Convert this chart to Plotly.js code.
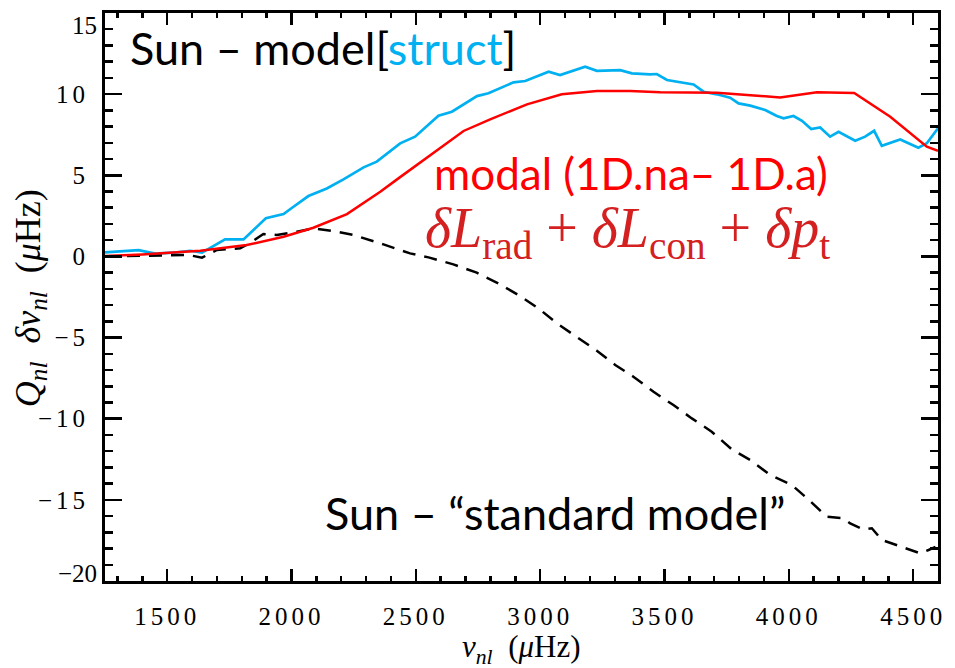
<!DOCTYPE html>
<html>
<head>
<meta charset="utf-8">
<script src="https://cdn.plot.ly/plotly-3.0.1.min.js"></script>
<style>
  html, body { margin: 0; padding: 0; background: #fff; }
  .xtick text, .ytick text { letter-spacing: 4px; }
</style>
</head>
<body>
<div id="chart" style="width:955px;height:668px;"></div>
<script>
// ---- data ----
const structX = [1250, 1385, 1452, 1539, 1593, 1640, 1733, 1807, 1897, 1968, 2008, 2068, 2142, 2209, 2290, 2343, 2437, 2497, 2591, 2645, 2746, 2792, 2893, 2940, 3034, 3080, 3181, 3228, 3322, 3369, 3442, 3469, 3510, 3576, 3617, 3657, 3711, 3764, 3798, 3845, 3905, 3952, 3979, 4019, 4053, 4090, 4126, 4166, 4200, 4267, 4307, 4343, 4374, 4448, 4521, 4555, 4600];
const structY = [0.25, 0.39, 0.17, 0.25, 0.35, 0.23, 1.05, 1.05, 2.35, 2.61, 3.06, 3.72, 4.19, 4.75, 5.49, 5.84, 6.97, 7.38, 8.67, 8.92, 9.88, 10.05, 10.73, 10.81, 11.38, 11.18, 11.69, 11.44, 11.48, 11.28, 11.22, 11.24, 10.87, 10.70, 10.60, 10.15, 9.99, 9.78, 9.43, 9.29, 9.02, 8.65, 8.51, 8.65, 8.36, 7.85, 7.95, 7.38, 7.68, 7.13, 7.38, 7.74, 6.82, 7.21, 6.70, 6.97, 7.90];

const modalX = [1250, 1400, 1633, 1820, 1968, 2088, 2223, 2357, 2430, 2585, 2692, 2799, 2947, 3087, 3228, 3362, 3483, 3711, 3965, 4113, 4263, 4408, 4555, 4600];
const modalY = [0.02, 0.12, 0.35, 0.70, 1.21, 1.77, 2.61, 3.99, 4.81, 6.56, 7.73, 8.45, 9.37, 9.99, 10.19, 10.19, 10.11, 10.09, 9.80, 10.11, 10.07, 8.61, 6.76, 6.51];

const stdX = [1250, 1400, 1586, 1640, 1700, 1794, 1830, 1887, 1941, 2022, 2088, 2169, 2249, 2370, 2477, 2551, 2651, 2745, 2832, 2913, 2993, 3067, 3148, 3228, 3302, 3375, 3456, 3536, 3610, 3690, 3771, 3845, 3925, 4012, 4073, 4153, 4220, 4247, 4300, 4334, 4374, 4394, 4488, 4528, 4562, 4590];
const stdY = [0.00, 0.05, 0.09, -0.08, 0.40, 0.50, 0.80, 1.38, 1.32, 1.52, 1.73, 1.56, 1.32, 0.74, 0.19, -0.06, -0.49, -1.00, -1.66, -2.38, -3.20, -4.12, -4.95, -5.81, -6.69, -7.41, -8.34, -9.16, -9.98, -10.80, -11.89, -12.55, -13.47, -14.08, -14.90, -16.04, -16.14, -16.45, -16.82, -16.75, -17.47, -17.58, -18.09, -18.29, -18.09, -17.90];

const xTickVals = [1500, 2000, 2500, 3000, 3500, 4000, 4500];
const xTickText = ["1500", "2000", "2500", "3000", "3500", "4000", "4500"];
const yTickVals = [-20, -15, -10, -5, 0, 5, 10, 15];
const yTickText = ["\u221220", "\u221215", "\u221210", "\u22125", "0", "5", "10", "15"];

// ---- style ----
const serif = "Liberation Serif";
const textFont = "Lato";
function tickFont() { return { family: serif, size: 25, color: "#000" }; }

const traces = [
  { x: structX, y: structY, mode: "lines", line: { color: "#00b0f0", width: 2.7 }, hoverinfo: "skip" },
  { x: stdX, y: stdY, mode: "lines", line: { color: "#000", width: 2.5, dash: "13px,9px" }, hoverinfo: "skip" },
  { x: modalX, y: modalY, mode: "lines", line: { color: "#ff0000", width: 2.5 }, hoverinfo: "skip" }
];

// y axis: the end labels (first/last) sit slightly inside the frame, as in the original
const last = yTickVals.length - 1;
const endAnn = [
  { v: yTickVals[0], t: yTickText[0], shift: 8 },
  { v: yTickVals[last], t: yTickText[last], shift: -12 }
].map(e => ({
  xref: "paper", yref: "y", x: 0, y: e.v, xanchor: "right", yanchor: "middle",
  xshift: -6, yshift: e.shift, text: e.t, showarrow: false, font: tickFont()
}));

const layout = {
  width: 955, height: 668,
  margin: { l: 105, r: 17, t: 13, b: 87 },
  paper_bgcolor: "#fff", plot_bgcolor: "#fff",
  showlegend: false,
  xaxis: {
    range: [1250, 4600], showgrid: false, zeroline: false,
    showline: true, linecolor: "#000", linewidth: 3, mirror: "allticks",
    ticks: "inside", ticklen: 12, tickwidth: 2.5, tickcolor: "#000",
    tickmode: "array", tickvals: xTickVals, ticktext: xTickText,
    tickfont: tickFont(), ticklabelstandoff: 11,
    minor: { dtick: 100, ticks: "inside", ticklen: 5, tickwidth: 2.5, tickcolor: "#000", showgrid: false }
  },
  yaxis: {
    range: [-20, 15], showgrid: false, zeroline: false,
    showline: true, linecolor: "#000", linewidth: 3, mirror: "allticks",
    ticks: "inside", ticklen: 17, tickwidth: 2.5, tickcolor: "#000",
    tickmode: "array", tickvals: yTickVals.slice(1, last), ticktext: yTickText.slice(1, last),
    tickfont: tickFont(), ticklabelstandoff: 8,
    minor: { dtick: 1, ticks: "inside", ticklen: 8, tickwidth: 2.5, tickcolor: "#000", showgrid: false }
  },
  annotations: endAnn.concat([
    { xref: "paper", yref: "paper", x: 0.5, y: -0.1197, xanchor: "center", yanchor: "middle", showarrow: false,
      text: "<i>\u03bd</i><sub><i>nl</i></sub>  (<i>\u03bc</i>Hz)", font: { family: serif, size: 31, color: "#000" } },
    { xref: "paper", yref: "paper", x: 0, y: 0.498, xanchor: "center", yanchor: "middle", xshift: -75, textangle: -90, showarrow: false,
      text: "<i>Q</i><sub><i>nl</i></sub>  <i>\u03b4\u03bd</i><sub><i>nl</i></sub>  (<i>\u03bc</i>Hz)", font: { family: serif, size: 36, color: "#000" } },
    { xref: "paper", yref: "paper", x: 0.0276, y: 0.938, xanchor: "left", yanchor: "middle", showarrow: false,
      text: 'Sun \u2013 model[<span style="color:#00b0f0">struct</span>]', font: { family: textFont, size: 45, color: "#000" } },
    { xref: "paper", yref: "paper", x: 0.392, y: 0.718, xanchor: "left", yanchor: "middle", showarrow: false,
      text: "modal (1D.na\u2013 1D.a)", font: { family: textFont, size: 44, color: "#ff0000" } },
    { xref: "paper", yref: "paper", x: 0.382, y: 0.615, xanchor: "left", yanchor: "middle", showarrow: false,
      text: "<i>\u03b4L</i><sub>rad</sub> + <i>\u03b4L</i><sub>con</sub> + <i>\u03b4p</i><sub>t</sub>", font: { family: serif, size: 56, color: "#d42020" } },
    { xref: "paper", yref: "paper", x: 0.262, y: 0.12, xanchor: "left", yanchor: "middle", showarrow: false,
      text: "Sun \u2013 \u201cstandard model\u201d", font: { family: textFont, size: 45, color: "#000" } }
  ])
};

Plotly.newPlot("chart", traces, layout, { displayModeBar: false, staticPlot: true });
</script>
</body>
</html>
